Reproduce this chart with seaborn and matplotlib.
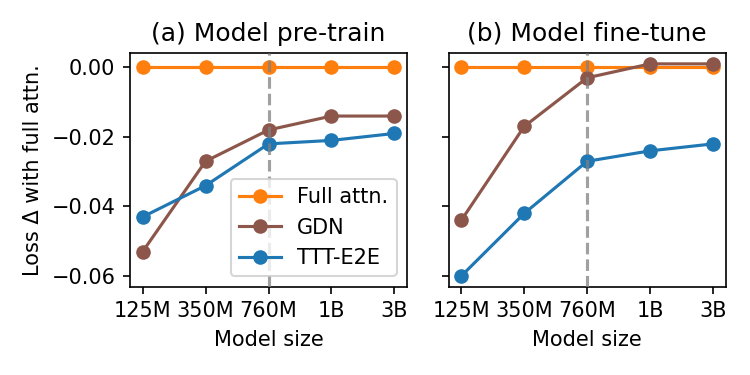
import matplotlib
matplotlib.use("Agg")
import matplotlib.pyplot as plt
import seaborn as sns
import pandas as pd

sizes = ["125M", "350M", "760M", "1B", "3B"]
methods = ["Full attn.", "GDN", "TTT-E2E"]
colors = {"Full attn.": "#ff7f0e", "GDN": "#8c564b", "TTT-E2E": "#1f77b4"}

pretrain_full = [0.0, 0.0, 0.0, 0.0, 0.0]
pretrain_gdn = [-0.053, -0.027, -0.018, -0.014, -0.014]
pretrain_ttt = [-0.043, -0.034, -0.022, -0.021, -0.019]

finetune_full = [0.0, 0.0, 0.0, 0.0, 0.0]
finetune_gdn = [-0.044, -0.017, -0.003, 0.001, 0.001]
finetune_ttt = [-0.060, -0.042, -0.027, -0.024, -0.022]

titles = ["(a) Model pre-train", "(b) Model fine-tune"]
highlight_size = "760M"


def make_df(full, gdn, ttt):
    rows = []
    for m, vals in zip(methods, [full, gdn, ttt]):
        for s, v in zip(sizes, vals):
            rows.append({"size": s, "delta": v, "method": m})
    return pd.DataFrame(rows)


plt.rcParams["font.family"] = ["DejaVu Sans"]
fig, axes = plt.subplots(1, 2, figsize=(5, 2.5), dpi=150, sharey=True)
fig.subplots_adjust(left=0.1733, right=0.9676, top=0.858, bottom=0.2355, wspace=0.15)

data = [make_df(pretrain_full, pretrain_gdn, pretrain_ttt),
        make_df(finetune_full, finetune_gdn, finetune_ttt)]

for i, (ax, df) in enumerate(zip(axes, data)):
    sns.lineplot(data=df, x="size", y="delta", hue="method", hue_order=methods,
                 palette=colors, marker="o", markersize=7, markeredgewidth=0,
                 linewidth=1.5, sort=False, ax=ax, legend=(i == 0))
    ax.axvline(sizes.index(highlight_size), color="gray", linestyle="--",
               linewidth=1.5, alpha=0.75, zorder=3)
    ax.set_title(titles[i], fontsize=12)
    ax.set_xlabel("Model size")
    ax.set_ylabel("Loss Δ with full attn." if i == 0 else "")
    ax.tick_params(labelsize=10)

leg = axes[0].legend(loc="lower right", fontsize=10)
leg.set_zorder(5)
axes[0].set_yticks([0.0, -0.02, -0.04, -0.06])
axes[0].set_yticklabels(["0.00", "−0.02", "−0.04", "−0.06"])

fig.savefig("out.png", dpi=150)
